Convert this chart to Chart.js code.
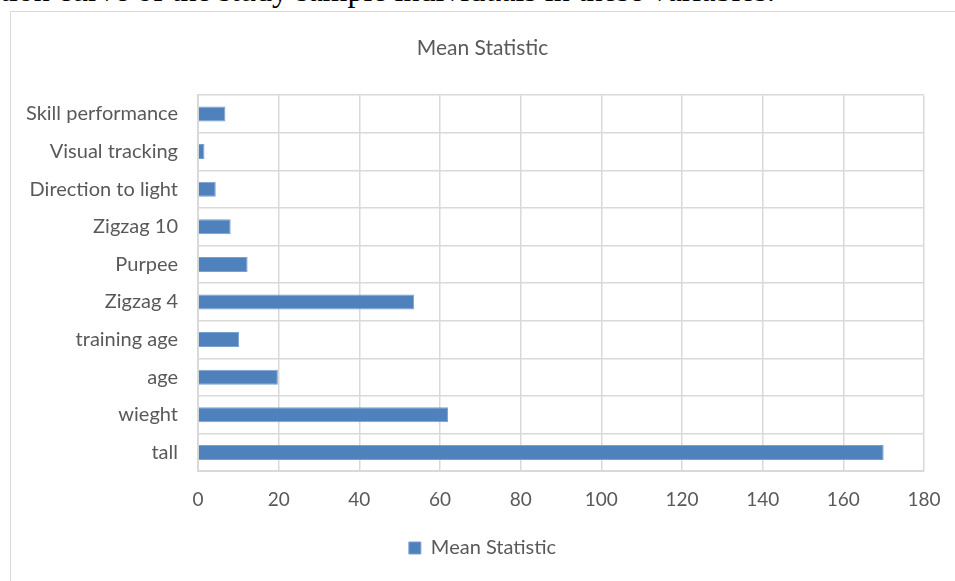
<!DOCTYPE html>
<html>
<head>
<meta charset="utf-8">
<script src="https://cdn.jsdelivr.net/npm/chart.js@4.4.1/dist/chart.umd.min.js"></script>
<style>
  html, body { margin: 0; padding: 0; background: #fff; overflow: hidden; }
  #page { position: relative; width: 955px; height: 581px; overflow: hidden; }
  #caption {
    position: absolute; left: 0; top: -26px; white-space: nowrap;
    font-family: "Liberation Serif", "Times New Roman", serif; font-size: 32px; line-height: 32px; color: #000;
  }
  #frame {
    position: absolute; left: 10px; top: 11px; width: 980px; height: 640px;
    border: 1px solid #d9d9d9; box-sizing: border-box;
  }
  #wrap { position: absolute; left: 10px; top: 0; width: 945px; height: 620px; }
</style>
</head>
<body>
<div id="page">
  <div id="caption">tion curve of the study sample individuals in these variables.</div>
  <div id="frame"></div>
  <div id="wrap"><canvas id="chart"></canvas></div>
</div>
<script>
// categories, top to bottom as shown
const categories = ["Skill performance", "Visual tracking", "Direction to light", "Zigzag 10", "Purpee",
                    "Zigzag 4", "training age", "age", "wieght", "tall"];
const meanStatistic = [6.8, 1.6, 4.4, 8.1, 12.3, 53.6, 10.2, 19.8, 62, 170];
const xTicks = [0, 20, 40, 60, 80, 100, 120, 140, 160, 180];

const textColor = "#595959";
const gridColor = "#d9d9d9";
const fontFamily = "Lato, 'Noto Sans', sans-serif";

new Chart(document.getElementById("chart"), {
  type: "bar",
  data: {
    labels: categories,
    datasets: [{
      label: "Mean Statistic",
      data: meanStatistic,
      backgroundColor: "#4f81bd",
      borderColor: "#7aa0cf",
      borderWidth: 1,
      barPercentage: 0.4,
      categoryPercentage: 1
    }]
  },
  options: {
    indexAxis: "y",
    responsive: true,
    maintainAspectRatio: false,
    animation: false,
    layout: { padding: { left: 0, right: 0, top: 0, bottom: 52 } },
    plugins: {
      title: {
        display: true,
        text: "Mean Statistic",
        color: textColor,
        font: { family: fontFamily, size: 21, weight: "normal" },
        padding: { top: 36, bottom: 34 }
      },
      legend: {
        position: "bottom",
        labels: {
          color: textColor,
          font: { family: fontFamily, size: 20 },
          boxWidth: 12,
          boxHeight: 12,
          padding: 27
        }
      },
      tooltip: { enabled: false }
    },
    scales: {
      x: {
        min: 0,
        max: 180,
        afterBuildTicks: (scale) => { scale.ticks = xTicks.map(v => ({ value: v })); },
        // invisible tick marks give the gap under the plot
        grid: { color: gridColor, lineWidth: 1.5, drawTicks: true, tickLength: 17, tickColor: "rgba(0,0,0,0)" },
        border: { color: gridColor, width: 2 },
        ticks: { color: textColor, font: { family: fontFamily, size: 19 }, padding: 0 }
      },
      y: {
        afterFit: (scale) => { scale.width = 188; },
        grid: { color: gridColor, lineWidth: 1.5, drawTicks: false, offset: true },
        border: { color: gridColor, width: 2 },
        ticks: { color: textColor, font: { family: fontFamily, size: 20 }, padding: 20 }
      },
      // empty right-hand axis that only reserves space right of the plot
      yRight: {
        type: "category",
        position: "right",
        afterFit: (scale) => { scale.width = 31; },
        grid: { display: false, drawTicks: false },
        border: { display: false },
        ticks: { display: false }
      }
    }
  }
});
</script>
</body>
</html>
